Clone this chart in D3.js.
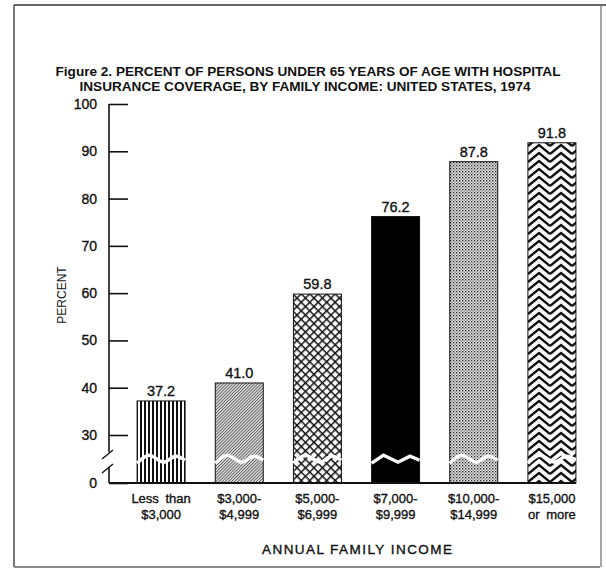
<!DOCTYPE html>
<html>
<head>
<meta charset="utf-8">
<script src="https://cdn.jsdelivr.net/npm/d3@7"></script>
<style>
  body { margin: 0; background: #fff; }
  text { font-family: "Liberation Sans", Arial, sans-serif; fill: #111; }
  .grueso { stroke: #111; stroke-width: 0.35px; }
</style>
</head>
<body>
<div id="graf"></div>
<script>
// datos
categorias = ['Less than|$3,000', '$3,000-|$4,999', '$5,000-|$6,999', '$7,000-|$9,999', '$10,000-|$14,999', '$15,000|or more']
valores = [37.2, 41.0, 59.8, 76.2, 87.8, 91.8]
etiquetas = ['37.2', '41.0', '59.8', '76.2', '87.8', '91.8']
rellenos = ['rayas', 'diagonal', 'rombos', 'negro', 'puntos', 'zigzag']
yTicks = [0, 30, 40, 50, 60, 70, 80, 90, 100]

titulo = ['Figure 2. PERCENT OF PERSONS UNDER 65 YEARS OF AGE WITH HOSPITAL',
          'INSURANCE COVERAGE, BY FAMILY INCOME: UNITED STATES, 1974']

ancho_total = 606
alto_total = 577

svg = d3.select('#graf').append('svg')
        .attr('width', ancho_total)
        .attr('height', alto_total)

// marco
marco = svg.append('g').attr('stroke', '#333').attr('stroke-width', 1.3)
marco.append('line').attr('x1', 14).attr('y1', 5).attr('x2', 606).attr('y2', 5)
marco.append('line').attr('x1', 14).attr('y1', 5).attr('x2', 14).attr('y2', 567)
marco.append('line').attr('x1', 14).attr('y1', 567).attr('x2', 600).attr('y2', 567).attr('stroke', '#666')
marco.append('line').attr('x1', 601).attr('y1', 5).attr('x2', 601).attr('y2', 567).attr('stroke', '#777')

// patrones
defs = svg.append('defs')

p = defs.append('pattern').attr('id', 'rayas').attr('patternUnits', 'userSpaceOnUse')
        .attr('width', 4).attr('height', 10)
p.append('rect').attr('width', 4).attr('height', 10).attr('fill', '#fff')
p.append('rect').attr('x', 0).attr('width', 2).attr('height', 10).attr('fill', '#111')

p = defs.append('pattern').attr('id', 'diagonal').attr('patternUnits', 'userSpaceOnUse')
        .attr('width', 2.2).attr('height', 2.2).attr('patternTransform', 'rotate(45)')
p.append('rect').attr('width', 2.2).attr('height', 2.2).attr('fill', '#e6e6e6')
p.append('rect').attr('width', 0.9).attr('height', 2.2).attr('fill', '#555')

p = defs.append('pattern').attr('id', 'rombos').attr('patternUnits', 'userSpaceOnUse')
        .attr('width', 6).attr('height', 6).attr('patternTransform', 'rotate(45)')
p.append('rect').attr('width', 6).attr('height', 6).attr('fill', '#fff')
p.append('rect').attr('width', 1.5).attr('height', 6).attr('fill', '#111')
p.append('rect').attr('width', 6).attr('height', 1.5).attr('fill', '#111')

p = defs.append('pattern').attr('id', 'negro').attr('patternUnits', 'userSpaceOnUse')
        .attr('width', 4).attr('height', 4)
p.append('rect').attr('width', 4).attr('height', 4).attr('fill', '#000')

p = defs.append('pattern').attr('id', 'puntos').attr('patternUnits', 'userSpaceOnUse')
        .attr('width', 3).attr('height', 3)
p.append('rect').attr('width', 3).attr('height', 3).attr('fill', '#e4e4e4')
p.append('rect').attr('x', 0).attr('y', 0).attr('width', 1.3).attr('height', 1.3).attr('fill', '#222')
p.append('rect').attr('x', 1.5).attr('y', 1.5).attr('width', 1.2).attr('height', 1.2).attr('fill', '#555')

p = defs.append('pattern').attr('id', 'zigzag').attr('patternUnits', 'userSpaceOnUse')
        .attr('width', 22).attr('height', 8)
p.append('rect').attr('width', 22).attr('height', 8).attr('fill', '#fff')
;[-16, -8, 0, 8, 16].forEach(o => {
        p.append('path')
                .attr('d', `M0,${o + 10} L11,${o + 1} L22,${o + 10}`)
                .attr('fill', 'none').attr('stroke', '#111').attr('stroke-width', 2.4)
})

// escalas
x = d3.scaleBand().domain(categorias).range([122, 591]).paddingInner(0.386).paddingOuter(0.193)
y = d3.scaleLinear().domain([0, 30, 100]).range([483, 435, 104])

// titulo
svg.append('text').attr('x', 308).attr('y', 76).attr('text-anchor', 'middle')
        .attr('font-size', 12.5).attr('font-weight', 'bold')
        .attr('textLength', 505).attr('lengthAdjust', 'spacingAndGlyphs')
        .text(titulo[0])
svg.append('text').attr('x', 305).attr('y', 91).attr('text-anchor', 'middle')
        .attr('font-size', 12.5).attr('font-weight', 'bold')
        .attr('textLength', 451).attr('lengthAdjust', 'spacingAndGlyphs')
        .text(titulo[1])

// eje y
yAxisCall = d3.axisLeft(y).tickValues(yTicks).tickSize(-19).tickPadding(12)
        .tickFormat(d3.format('d'))
yAxisGroup = svg.append('g').attr('transform', 'translate(109,0)').call(yAxisCall)
yAxisGroup.select('.domain').remove()
yAxisGroup.selectAll('.tick line').attr('stroke', '#111').attr('stroke-width', 1.6)
yAxisGroup.selectAll('.tick text').attr('font-size', 14).attr('font-family', '"Liberation Sans", Arial, sans-serif')
        .attr('fill', '#111').attr('class', 'grueso')

// linea del eje con corte
svg.append('line').attr('x1', 109).attr('x2', 109).attr('y1', y(100)).attr('y2', 452)
        .attr('stroke', '#111').attr('stroke-width', 1.6)
svg.append('line').attr('x1', 109).attr('x2', 109).attr('y1', 467).attr('y2', y(0))
        .attr('stroke', '#111').attr('stroke-width', 1.6)
svg.append('line').attr('x1', 102).attr('y1', 459).attr('x2', 113).attr('y2', 450)
        .attr('stroke', '#111').attr('stroke-width', 1.4)
svg.append('line').attr('x1', 102).attr('y1', 473).attr('x2', 113).attr('y2', 464)
        .attr('stroke', '#111').attr('stroke-width', 1.4)

svg.append('text').attr('transform', 'translate(66,295) rotate(-90)')
        .attr('text-anchor', 'middle').attr('font-size', 12)
        .text('PERCENT')

// barras
g = svg.append('g')
g.selectAll('rect.barra')
        .data(valores)
        .enter().append('rect')
        .attr('class', 'barra')
        .attr('x', (d, i) => x(categorias[i]))
        .attr('y', d => y(d))
        .attr('width', x.bandwidth())
        .attr('height', d => y(0) - y(d))
        .attr('fill', (d, i) => `url(#${rellenos[i]})`)
        .attr('stroke', '#111')
        .attr('stroke-width', 1)

// corte blanco en cada barra
forma = [[0, 5], [0.25, -3], [0.55, 4], [0.8, -2], [1, 2]]
corte = d3.line()
g.selectAll('path.corte')
        .data(valores)
        .enter().append('path')
        .attr('class', 'corte')
        .attr('d', (d, i) => {
                corte.curve(rellenos[i] == 'negro' ? d3.curveLinear : d3.curveCatmullRom)
                return corte(forma.map(f => [x(categorias[i]) + f[0] * x.bandwidth(), y(15.5) + f[1]]))
        })
        .attr('fill', 'none')
        .attr('stroke', '#fff')
        .attr('stroke-width', 3.4)

// etiquetas de valor
g.selectAll('text.valor')
        .data(valores)
        .enter().append('text')
        .attr('class', 'valor grueso')
        .attr('x', (d, i) => x(categorias[i]) + x.bandwidth() / 2)
        .attr('y', d => y(d) - 5)
        .attr('text-anchor', 'middle')
        .attr('font-size', 14.5)
        .text((d, i) => etiquetas[i])

// linea base
svg.append('line').attr('x1', 109).attr('x2', x(categorias[5]) + x.bandwidth())
        .attr('y1', y(0)).attr('y2', y(0))
        .attr('stroke', '#111').attr('stroke-width', 2)

// etiquetas x
categorias.forEach(c => {
        partes = c.split('|')
        partes.forEach((t, j) => {
                svg.append('text')
                        .attr('class', 'grueso')
                        .attr('x', x(c) + x.bandwidth() / 2)
                        .attr('y', 503 + j * 15.5)
                        .attr('text-anchor', 'middle')
                        .attr('font-size', 13)
                        .attr('word-spacing', 3)
                        .text(t)
        })
})

svg.append('text').attr('x', 357).attr('y', 554).attr('text-anchor', 'middle')
        .attr('class', 'grueso')
        .attr('font-size', 13.5).attr('textLength', 190).attr('lengthAdjust', 'spacing')
        .text('ANNUAL FAMILY INCOME')
</script>
</body>
</html>
